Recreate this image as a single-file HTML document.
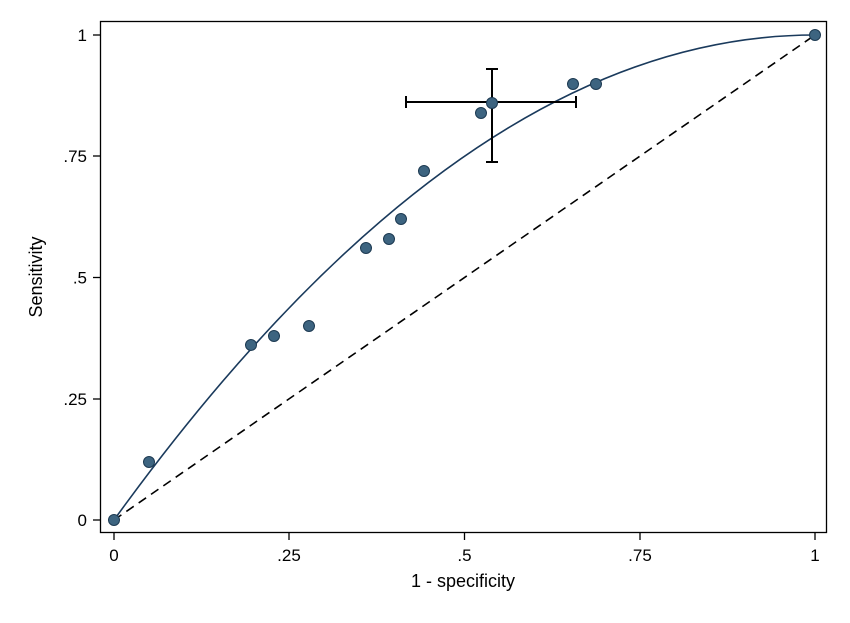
<!DOCTYPE html>
<html><head><style>body{margin:0;background:#fff}</style></head><body>
<svg width="850" height="618" xmlns="http://www.w3.org/2000/svg" font-family="Liberation Sans, sans-serif">
<rect width="850" height="618" fill="#fff"/>
<rect x="100.5" y="21.5" width="726" height="511" fill="none" stroke="#000" stroke-width="1.3"/>
<g stroke="#000" stroke-width="1.3">
<line x1="114" y1="533" x2="114" y2="540"/><line x1="289" y1="533" x2="289" y2="540"/><line x1="464.5" y1="533" x2="464.5" y2="540"/><line x1="640" y1="533" x2="640" y2="540"/><line x1="815" y1="533" x2="815" y2="540"/>
<line x1="93" y1="520" x2="100" y2="520"/><line x1="93" y1="399" x2="100" y2="399"/><line x1="93" y1="277.5" x2="100" y2="277.5"/><line x1="93" y1="156" x2="100" y2="156"/><line x1="93" y1="35" x2="100" y2="35"/>
</g>
<g font-size="17" fill="#000" text-anchor="middle">
<text x="114" y="561">0</text><text x="289" y="561">.25</text><text x="464.5" y="561">.5</text><text x="640" y="561">.75</text><text x="815" y="561">1</text>
<text x="264" y="586" font-size="18" x-="0"> </text>
<text x="463" y="587" font-size="18">1 - specificity</text>
</g>
<g font-size="17" fill="#000" text-anchor="end">
<text x="87" y="526">0</text><text x="87" y="405">.25</text><text x="87" y="283.5">.5</text><text x="87" y="162">.75</text><text x="87" y="41">1</text>
</g>
<text transform="translate(42,277) rotate(-90)" font-size="18" text-anchor="middle">Sensitivity</text>
<line x1="114" y1="520" x2="815" y2="35" stroke="#000" stroke-width="1.6" stroke-dasharray="9,6"/>
<path d="M114,520 Q464.5,35 815,35" fill="none" stroke="#1a3a5c" stroke-width="1.6"/>
<g stroke="#000" stroke-width="2">
<line x1="406" y1="102" x2="576" y2="102"/><line x1="406" y1="96" x2="406" y2="108"/><line x1="576" y1="96" x2="576" y2="108"/>
<line x1="492" y1="69" x2="492" y2="162"/><line x1="486" y1="69" x2="498" y2="69"/><line x1="486" y1="162" x2="498" y2="162"/>
</g>
<g fill="#3d6480" stroke="#1d3a52" stroke-width="1">
<circle cx="114" cy="520" r="5.5"/><circle cx="149" cy="462" r="5.5"/><circle cx="251" cy="345" r="5.5"/><circle cx="274" cy="336" r="5.5"/><circle cx="309" cy="326" r="5.5"/><circle cx="366" cy="248" r="5.5"/><circle cx="389" cy="239" r="5.5"/><circle cx="401" cy="219" r="5.5"/><circle cx="424" cy="171" r="5.5"/><circle cx="481" cy="113" r="5.5"/><circle cx="492" cy="103" r="5.5"/><circle cx="573" cy="84" r="5.5"/><circle cx="596" cy="84" r="5.5"/><circle cx="815" cy="35" r="5.5"/>
</g>
</svg>
</body></html>
